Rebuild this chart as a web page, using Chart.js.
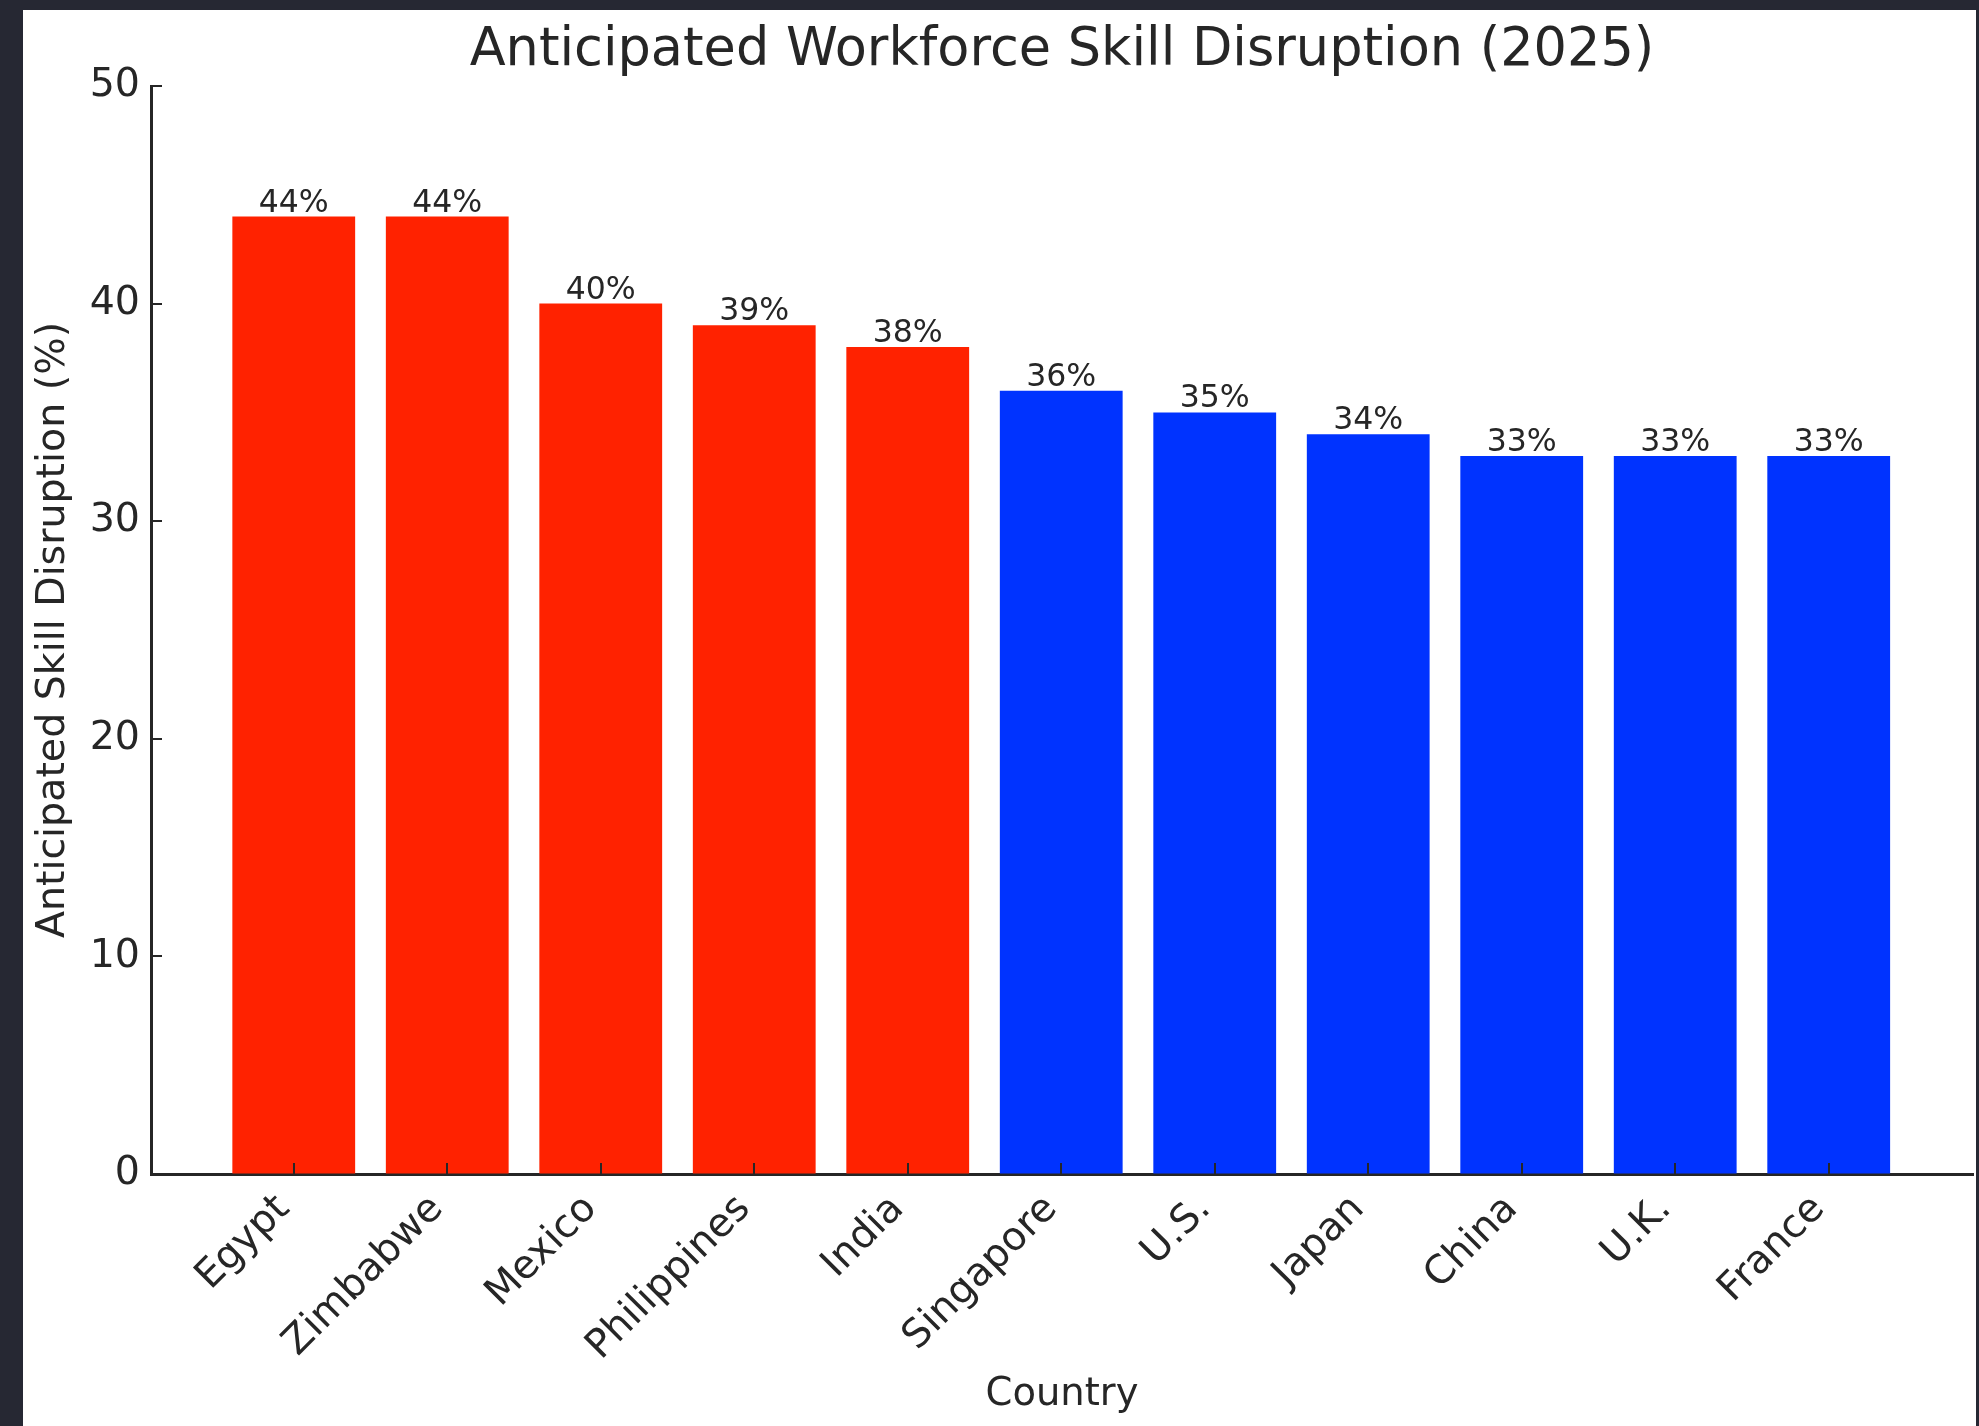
<!DOCTYPE html>
<html>
<head>
<meta charset="utf-8">
<title>Anticipated Workforce Skill Disruption (2025)</title>
<script src="https://cdn.jsdelivr.net/npm/chart.js@4"></script>
<style>
  html, body { margin: 0; padding: 0; background: #262833; overflow: hidden; }
  #frame { position: absolute; left: 23px; top: 10px; width: 1953px; height: 1416px; background: #fff; }
</style>
</head>
<body>
<div id="frame"><canvas id="chart_bar"></canvas></div>
<script>
const countries = ['Egypt', 'Zimbabwe', 'Mexico', 'Philippines', 'India', 'Singapore', 'U.S.', 'Japan', 'China', 'U.K.', 'France'];
const disruption = [44, 44, 40, 39, 38, 36, 35, 34, 33, 33, 33];
const yTicks = [0, 10, 20, 30, 40, 50];

const ink = '#262626';
const family = 'DejaVu Sans';

// percentage written above each bar, plus inward tick marks on both axes
const barLabels = {
  id: 'barLabels',
  afterDatasetsDraw(chart) {
    const ctx = chart.ctx;
    const meta = chart.getDatasetMeta(0);
    const xs = chart.scales.x;
    const ys = chart.scales.y;
    ctx.save();
    ctx.strokeStyle = ink;
    ctx.lineWidth = 2;
    ctx.beginPath();
    countries.forEach(function(c, i){
      const px = Math.round(xs.getPixelForValue(i));
      ctx.moveTo(px, xs.top);
      ctx.lineTo(px, xs.top - 11);
    });
    yTicks.forEach(function(v){
      const py = Math.round(ys.getPixelForValue(v));
      ctx.moveTo(ys.right, py);
      ctx.lineTo(ys.right + 11, py);
    });
    ctx.stroke();

    ctx.font = '31.5px "' + family + '"';
    ctx.fillStyle = ink;
    ctx.textAlign = 'center';
    ctx.textBaseline = 'alphabetic';
    meta.data.forEach(function(bar, i){
      ctx.fillText(disruption[i] + '%', bar.x, bar.y - 5);
    });
    ctx.restore();
  }
};

var ctx = document.getElementById('chart_bar');
var myChart = new Chart(ctx, {
  type: 'bar',
  data: {
    datasets: [{
      label: 'Anticipated Skill Disruption (%)',
      data: countries.map(function(c, i){ return {x: i, y: disruption[i]}; }),
      backgroundColor: disruption.map(function(v){ return v >= 38 ? '#ff2200' : '#0033ff'; }),
      barPercentage: 0.8,
      categoryPercentage: 1
    }]
  },
  options: {
    responsive: true,
    maintainAspectRatio: false,
    animation: false,
    layout: { padding: { left: 0, right: 3, top: 0, bottom: 0 } },
    plugins: {
      legend: { display: false },
      tooltip: { enabled: false },
      title: {
        display: true,
        text: 'Anticipated Workforce Skill Disruption (2025)',
        fullSize: false,
        color: ink,
        font: { family: family, size: 52.5, weight: 'normal' },
        padding: { top: 10, bottom: 3 }
      }
    },
    scales: {
      x: {
        type: 'linear',
        min: -0.93,
        max: 10.94,
        offset: false,
        afterBuildTicks: function(s){ s.ticks = countries.map(function(c, i){ return {value: i}; }); },
        afterFit: function(s){ s.height = 252; s.paddingLeft = 0; s.paddingRight = 0; },
        ticks: {
          callback: function(v){ return countries[v]; },
          autoSkip: false,
          minRotation: 45,
          maxRotation: 45,
          padding: 23,
          labelOffset: -10,
          color: ink,
          font: { family: family, size: 39.5 }
        },
        grid: { offset: false, drawOnChartArea: false, drawTicks: true, tickLength: -11, color: 'rgba(0,0,0,0)' },
        border: { display: true, color: ink, width: 3 },
        title: {
          display: true,
          text: 'Country',
          color: ink,
          font: { family: family, size: 38.5 },
          padding: { top: 0, bottom: 8 }
        }
      },
      y: {
        min: 0,
        max: 50,
        afterBuildTicks: function(s){ s.ticks = yTicks.map(function(v){ return {value: v}; }); },
        afterFit: function(s){ s.width = 128; },
        ticks: {
          padding: 22,
          color: ink,
          font: { family: family, size: 39.5 }
        },
        grid: { offset: false, drawOnChartArea: false, drawTicks: true, tickLength: -11, color: 'rgba(0,0,0,0)' },
        border: { display: true, color: ink, width: 3 },
        title: {
          display: true,
          text: 'Anticipated Skill Disruption (%)',
          color: ink,
          font: { family: family, size: 39.5 },
          padding: { top: 7, bottom: 0 }
        }
      }
    }
  },
  plugins: [barLabels]
});
</script>
</body>
</html>
